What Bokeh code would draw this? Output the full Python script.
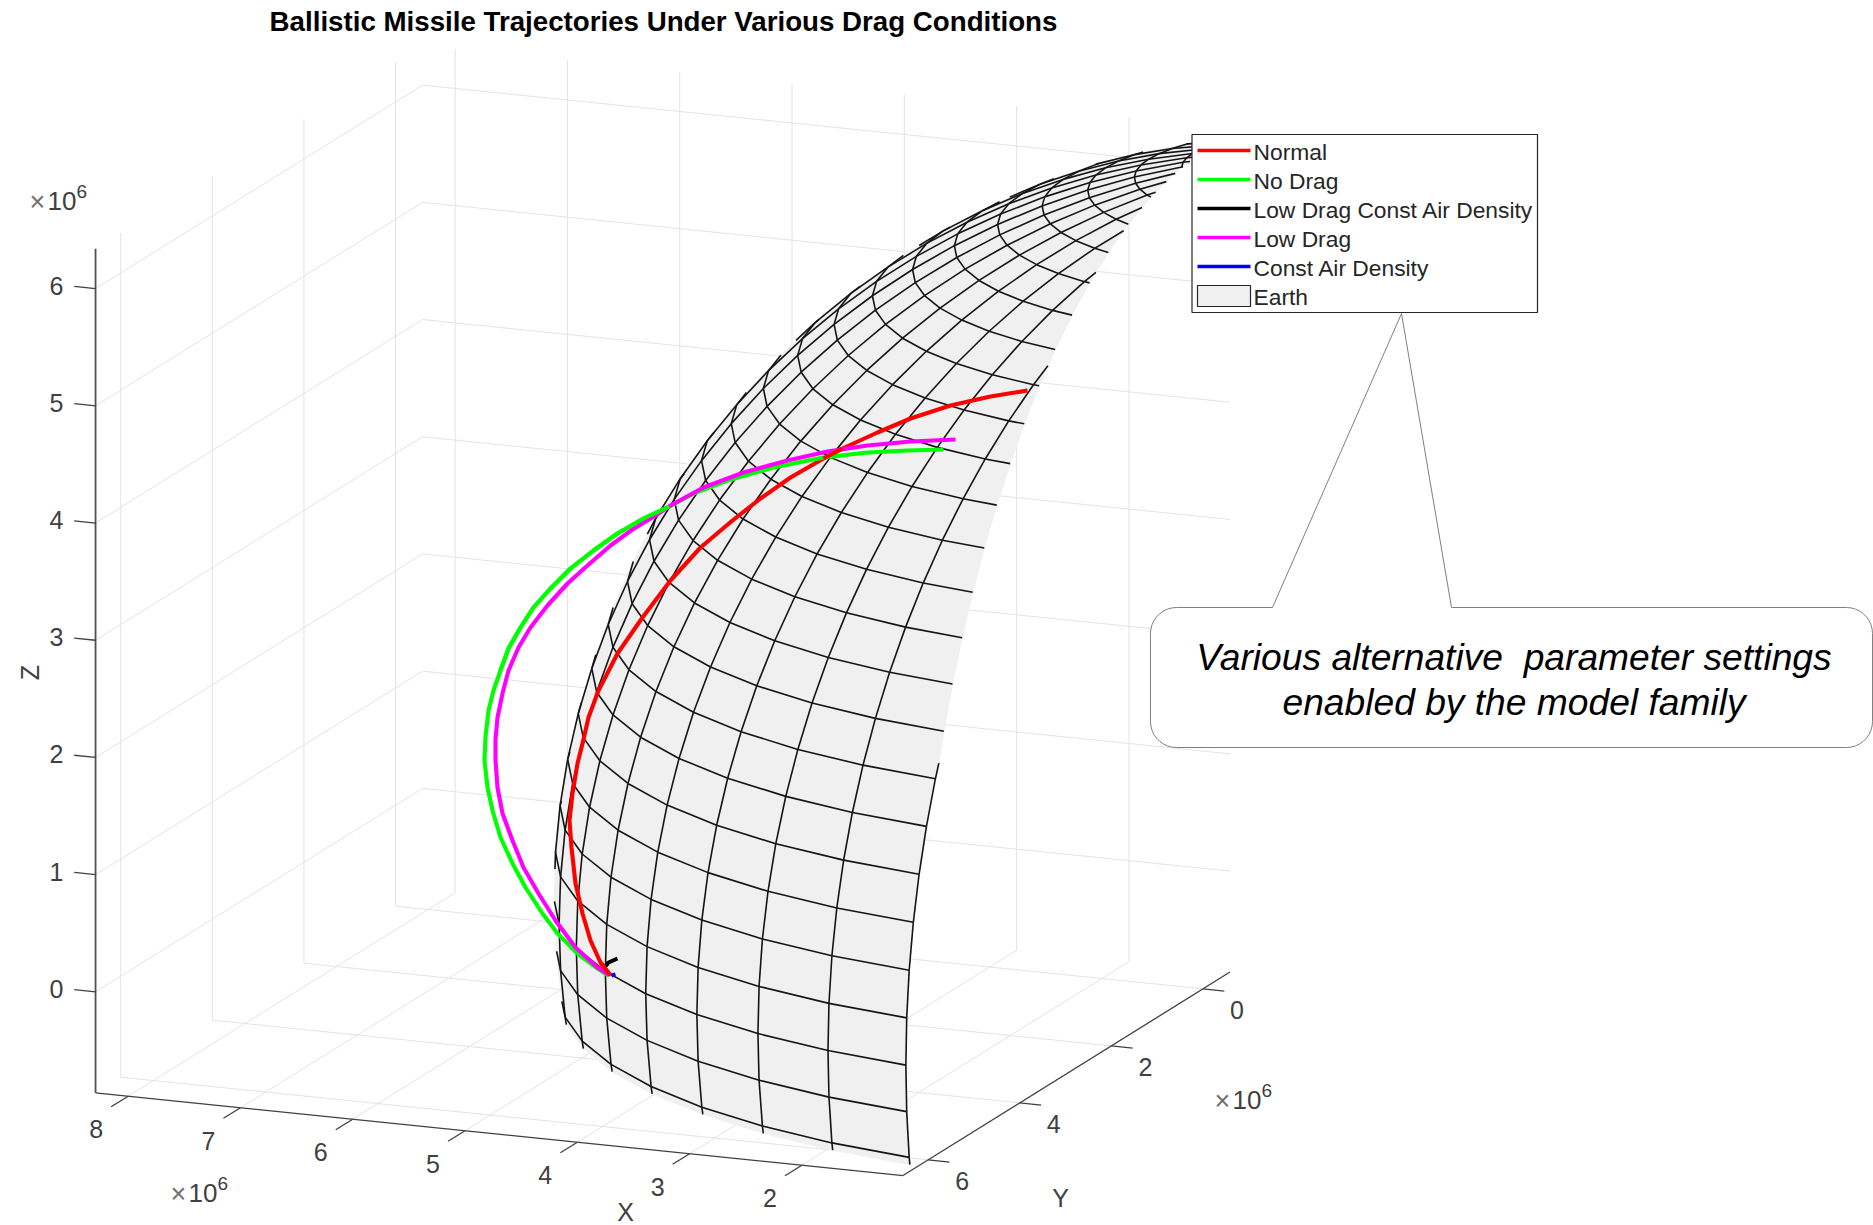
from bokeh.plotting import figure
from bokeh.models import Range1d
from bokeh.core.properties import value
from bokeh.embed import file_html
from bokeh.resources import INLINE
import numpy as np

TITLE = "Ballistic Missile Trajectories Under Various Drag Conditions"
LEGEND_LABELS = ["Normal", "No Drag", "Low Drag Const Air Density", "Low Drag", "Const Air Density", "Earth"]
LEGEND_COLORS = ["#ff0000", "#00ff00", "#000000", "#ff00ff", "#0000ff"]
CALLOUT = ["Various alternative\u00a0 parameter settings", "enabled by the model family"]

# axes (units of 1e6 m)
x_ticks = [2, 3, 4, 5, 6, 7, 8]
y_ticks = [0, 2, 4, 6]
z_ticks = [0, 1, 2, 3, 4, 5, 6]
x_lim = [1.10, 8.29]
y_lim = [-0.59, 6.55]
z_lim = [-0.862, 6.34]

# Earth mesh
earth_radius = 6.37
earth_lat = [-10.8, -7.2, -3.6, 0, 3.6, 7.2, 10.8, 14.4, 18, 21.6, 25.2, 28.8, 32.4, 36, 39.6, 43.2,
             46.8, 50.4, 54, 57.6, 61.2, 64.8, 68.4, 72, 75.6, 79.2, 82.8, 86.4]
earth_lon = [-79.2, -72, -64.8, -57.6, -50.4, -43.2, -36, -28.8, -21.6, -14.4, -7.2, 0, 7.2, 14.4, 21.6,
             28.8, 36, 43.2, 50.4, 57.6, 64.8, 72, 79.2]

# trajectories as they appear on the picture (horizontal, vertical position)
normal_h = [610, 600, 590, 582, 575, 571, 569, 572, 577, 583, 588, 598, 617, 642, 670, 700, 732, 760, 790, 823, 842, 877, 910, 950, 990, 1027]
normal_v = [975, 962, 940, 913, 883, 847, 820, 793, 763, 739, 717, 690, 653, 617, 580, 547, 520, 498, 477, 458, 448, 432, 418, 405, 396, 390]
nodrag_h = [608, 597, 577, 557, 542, 525, 512, 500, 492, 487, 484, 485, 488, 493, 500, 508, 520, 533, 550, 570, 593, 617, 643, 669, 693, 727, 773, 823, 867, 907, 943]
nodrag_v = [975, 968, 953, 933, 913, 887, 863, 837, 810, 787, 760, 736, 710, 690, 670, 648, 627, 607, 588, 568, 550, 533, 518, 506, 493, 480, 467, 457, 452, 450, 449]
lowdrag_h = [608, 597, 575, 555, 538, 523, 512, 502, 497, 495, 495, 497, 502, 508, 518, 530, 547, 567, 587, 610, 632, 655, 670, 703, 743, 787, 827, 867, 910, 955]
lowdrag_v = [974, 967, 947, 920, 893, 867, 840, 813, 787, 760, 739, 717, 693, 670, 647, 627, 605, 583, 565, 545, 529, 515, 505, 487, 472, 460, 451, 445, 441, 439]
lowconst_h = [603, 608, 617]
lowconst_v = [968, 962, 958]
constair_h = [611, 615]
constair_v = [975, 974]

WIDTH, HEIGHT = 1873, 1225
p = figure(width=WIDTH, height=HEIGHT, output_backend="svg", toolbar_location=None,
           x_range=Range1d(0, WIDTH), y_range=Range1d(HEIGHT, 0), min_border=0)
p.axis.visible = False
p.grid.visible = False
p.outline_line_color = None
p.background_fill_color = "white"

FONT = value("Liberation Sans")


def project(x, y, z):
    x, y, z = np.asarray(x, float), np.asarray(y, float), np.asarray(z, float)
    return 1326 - 112.3 * x - 45.8 * y, 900 - 11.5 * x + 28.5 * y - 117.2 * z


def depth(q):
    return -0.365 * q[0] + 0.894 * q[1] + 0.253 * q[2]


def segment(a, b, color="#e3e3e3", width=1.0):
    pa, pb = project(*a), project(*b)
    p.line([float(pa[0]), float(pb[0])], [float(pa[1]), float(pb[1])], line_color=color, line_width=width)


def label(x, y, s, size="25px", color="#404040", align="center", baseline="middle", style="normal", angle=0):
    p.text(x=[x], y=[y], text=[s], text_font=FONT, text_font_size=value(size), text_color=color,
           text_align=align, text_baseline=baseline, text_font_style=style, angle=angle)


# grid
x0, x1 = x_lim
y0, y1 = y_lim
z0, z1 = z_lim
for t in x_ticks:
    segment((t, y1, z0), (t, y0, z0))
    segment((t, y0, z0), (t, y0, z1))
for t in y_ticks:
    segment((x1, t, z0), (x0, t, z0))
    segment((x1, t, z0), (x1, t, z1))
for t in z_ticks:
    segment((x1, y1, t), (x1, y0, t))
    segment((x1, y0, t), (x0, y0, t))

# Earth, cut by the axes box and hidden behind its own limb
PLANES = [lambda q: q[0] - x_lim[0], lambda q: q[1] - y_lim[0], lambda q: q[2] - z_lim[0], depth]


def node(lat, lon):
    a, b = np.radians(lat), np.radians(lon)
    return np.array([earth_radius * np.cos(a) * np.cos(b), earth_radius * np.cos(a) * np.sin(b), earth_radius * np.sin(a)])


def clip_poly(pts):
    for f in PLANES:
        out = []
        for i in range(len(pts)):
            a, b = pts[i], pts[(i + 1) % len(pts)]
            fa, fb = f(a), f(b)
            if fa >= 0:
                out.append(a)
            if (fa >= 0) != (fb >= 0):
                out.append(a + (b - a) * fa / (fa - fb))
        pts = out
        if not pts:
            break
    return pts


def clip_seg(a, b):
    t0, t1 = 0.0, 1.0
    for f in PLANES:
        fa, fb = f(a), f(b)
        if fa < 0 and fb < 0:
            return None
        if fa < 0:
            t0 = max(t0, fa / (fa - fb))
        elif fb < 0:
            t1 = min(t1, fa / (fa - fb))
    if t0 >= t1:
        return None
    return a + (b - a) * t0, a + (b - a) * t1


cells_x, cells_y = [], []
for i in range(len(earth_lat) - 1):
    for j in range(len(earth_lon) - 1):
        poly = clip_poly([node(earth_lat[i], earth_lon[j]), node(earth_lat[i], earth_lon[j + 1]),
                          node(earth_lat[i + 1], earth_lon[j + 1]), node(earth_lat[i + 1], earth_lon[j])])
        if poly:
            h, v = project(*np.array(poly).T)
            cells_x.append(h.tolist())
            cells_y.append(v.tolist())
p.patches(cells_x, cells_y, fill_color="#f0f0f0", line_color="#f0f0f0", line_width=1)

mesh_x, mesh_y = [], []


def add_path(nodes):
    for a, b in zip(nodes[:-1], nodes[1:]):
        s = clip_seg(a, b)
        if s:
            h, v = project(*np.array(s).T)
            mesh_x.append(h.tolist())
            mesh_y.append(v.tolist())


for lat in earth_lat:
    add_path([node(lat, lon) for lon in earth_lon])
for lon in earth_lon:
    add_path([node(lat, lon) for lat in earth_lat])
p.multi_line(mesh_x, mesh_y, line_color="#141414", line_width=1.6)

# axes
AX = "#404040"
segment((x1, y1, z0), (x1, y1, z1), "#505050", 1.8)
segment((x1, y1, z0), (x0, y1, z0), AX, 1.3)
segment((x0, y1, z0), (x0, y0, z0), AX, 1.3)
for t in z_ticks:
    segment((x1, y1, t), (x1 + 0.19, y1, t), AX, 1.3)
    h, v = project(x1, y1, t)
    label(float(h) - 39, float(v) - 3, str(t))
for t in x_ticks:
    segment((t, y1, z0), (t, y1 + 0.37, z0), AX, 1.3)
    h, v = project(t, y1, z0)
    label(float(h) - 32, float(v) + 33, str(t))
for t in y_ticks:
    segment((x0, t, z0), (x0 - 0.19, t, z0), AX, 1.3)
    h, v = project(x0, t, z0)
    label(float(h) + 34, float(v) + 21, str(t))


def exponent(h, v):
    label(h, v + 1, "\u00d7", "27px", "#707070", "left")
    label(h + 18, v, "10", "26px", "#404040", "left")
    label(h + 47, v - 9, "6", "19px", "#404040", "left")


exponent(29, 200)
exponent(170, 1192)
exponent(1214, 1099)
label(29, 672, "Z", "25px", "#404040", angle=np.pi / 2)
label(1060, 1197, "Y", "25px")
label(625, 1225, "X", "25px", baseline="bottom")

# trajectories
LW = 4.1
JOIN = "round"
p.line(normal_h, normal_v, line_color=LEGEND_COLORS[0], line_width=LW, line_join=JOIN)
p.line(nodrag_h, nodrag_v, line_color=LEGEND_COLORS[1], line_width=LW, line_join=JOIN)
p.line(lowdrag_h, lowdrag_v, line_color=LEGEND_COLORS[3], line_width=LW, line_join=JOIN)
p.line(nodrag_h[14:24], nodrag_v[14:24], line_color=LEGEND_COLORS[1], line_width=LW, line_join=JOIN)
p.line(normal_h[19:21], normal_v[19:21], line_color=LEGEND_COLORS[0], line_width=LW)
p.line(lowconst_h, lowconst_v, line_color=LEGEND_COLORS[2], line_width=LW, line_join=JOIN)
p.line(normal_h[:2], normal_v[:2], line_color=LEGEND_COLORS[0], line_width=LW)
p.line(constair_h, constair_v, line_color=LEGEND_COLORS[4], line_width=LW)


def callout_path(l, t, r, b, rad, tail):
    """Outline of a rounded box with a pointer: tail = (left foot, tip, right foot)."""
    corners = [(r - rad, t + rad, -90), (r - rad, b - rad, 0), (l + rad, b - rad, 90), (l + rad, t + rad, 180)]
    hs, vs = [tail[2][0]], [tail[2][1]]
    for cx, cy, start in corners:
        a = np.radians(np.linspace(start, start + 90, 10))
        hs += (cx + rad * np.cos(a)).tolist()
        vs += (cy + rad * np.sin(a)).tolist()
    hs += [tail[0][0], tail[1][0]]
    vs += [tail[0][1], tail[1][1]]
    return hs, vs


# callout
h, v = callout_path(1150, 607, 1872, 747, 26, [(1272, 607), (1401, 313), (1451, 607)])
p.patch(h, v, fill_color="white", line_color="#808080", line_width=1)
label(1513.5, 656, CALLOUT[0], "37.2px", "#000000", style="italic")
label(1513.5, 701, CALLOUT[1], "37.2px", "#000000", style="italic")

# legend
p.quad(left=[1191.5], right=[1537], top=[134], bottom=[312], fill_color="white", line_color="#262626", line_width=1.2)
rows = [150, 179, 208, 237, 266]
for r, c in zip(rows, LEGEND_COLORS):
    p.line([1197, 1250], [r, r], line_color=c, line_width=3.4)
p.quad(left=[1197], right=[1250], top=[285], bottom=[306], fill_color="#f0f0f0", line_color="#262626", line_width=1.2)
for r, s in zip(rows + [295], LEGEND_LABELS):
    label(1253, r + 1, s, "22.8px", "#262626", "left")

label(663, 21, TITLE, "27.7px", "#000000", style="bold")

open("out.html", "w").write(file_html(p, INLINE))
